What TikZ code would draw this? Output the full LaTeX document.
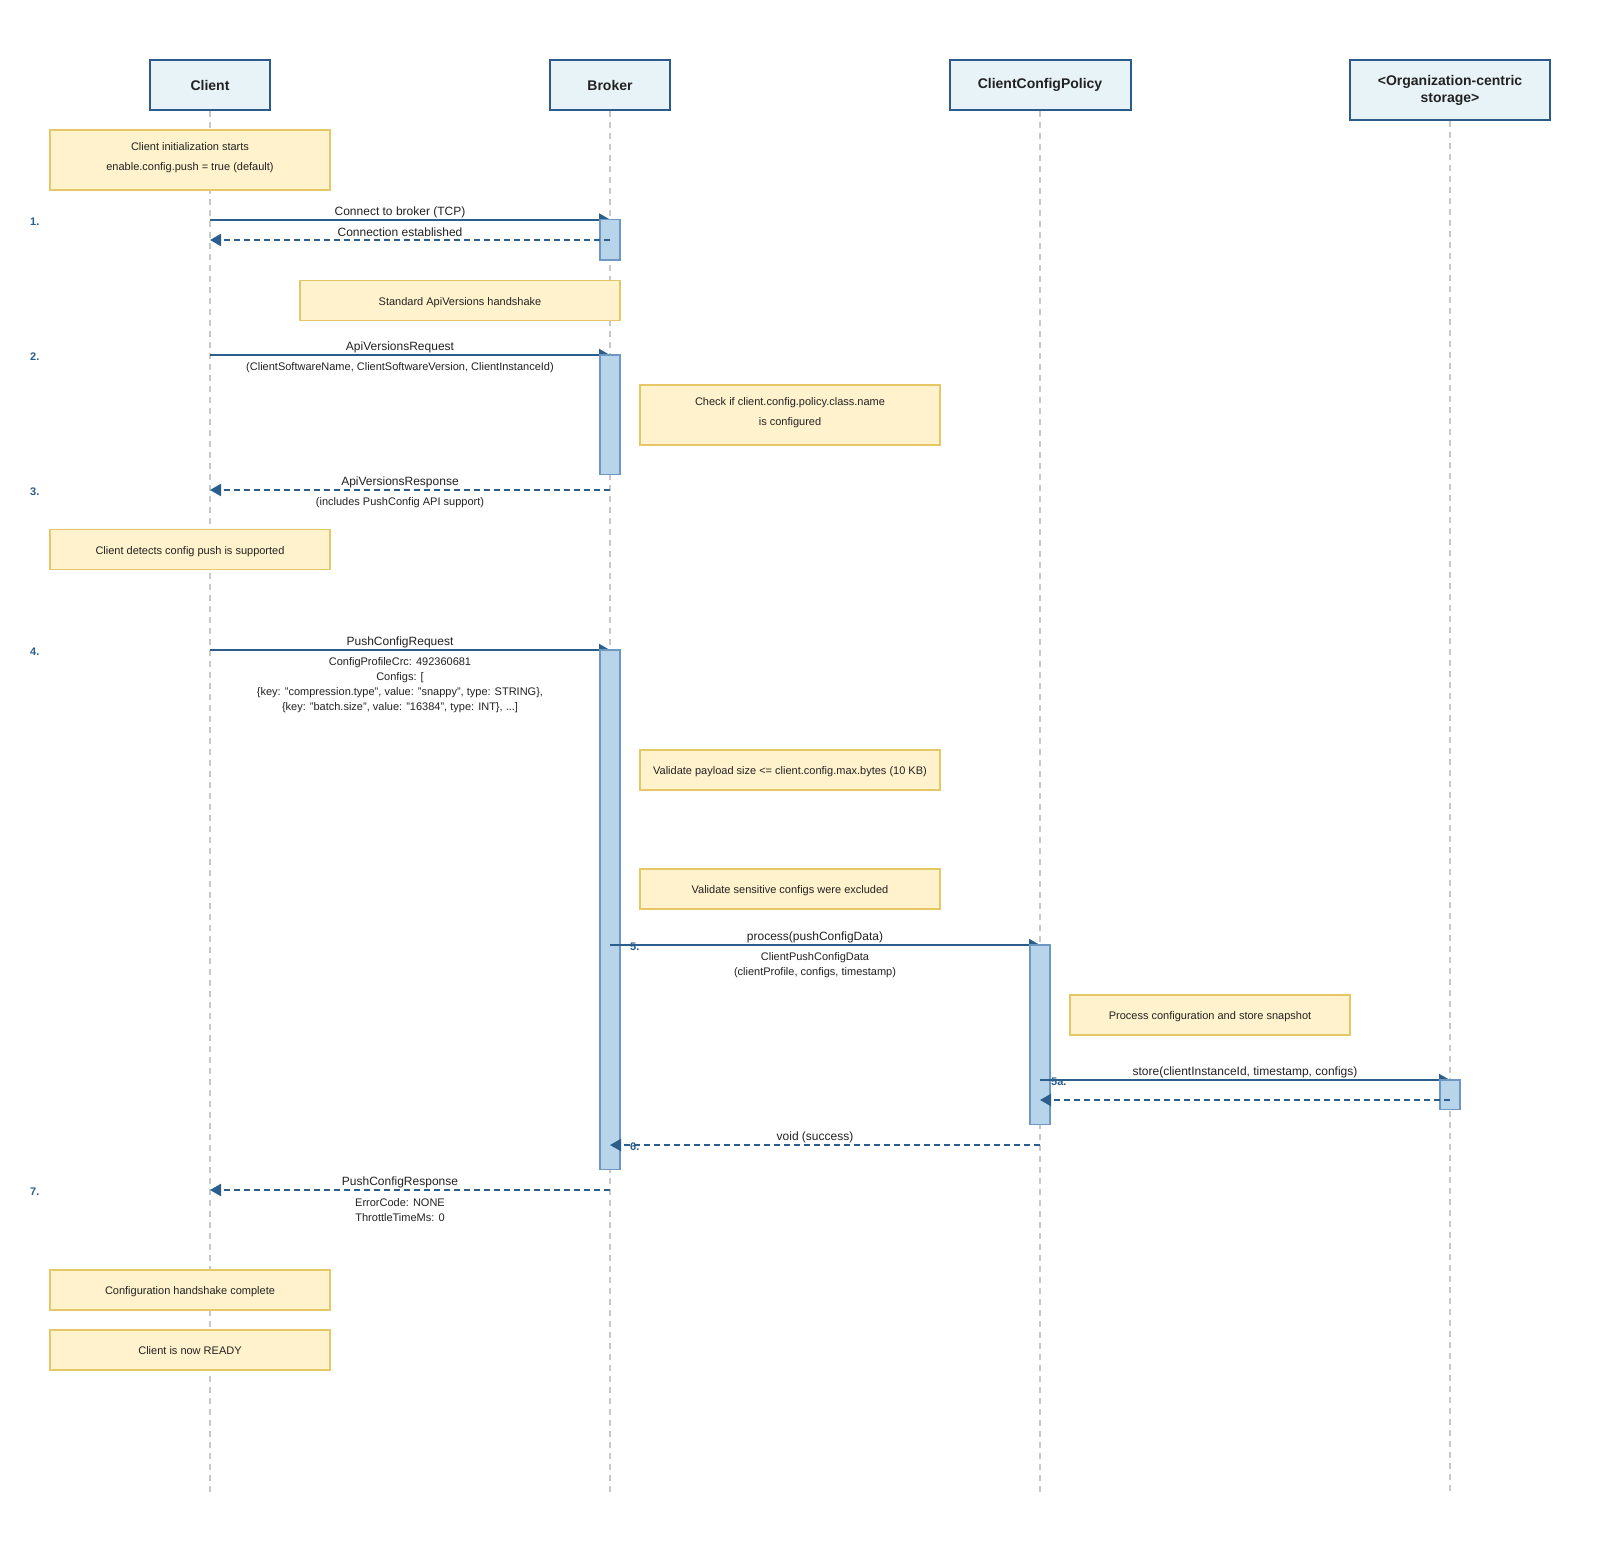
\documentclass[tikz,border=0pt]{standalone}
\usepackage{fontspec}
\setmainfont{Liberation Sans}
\usetikzlibrary{arrows.meta}
\definecolor{headfill}{HTML}{E8F3F8}
\definecolor{headdraw}{HTML}{2B5B8A}
\definecolor{notefill}{HTML}{FFF2CC}
\definecolor{notedraw}{HTML}{E6C766}
\definecolor{actfill}{HTML}{B8D4EA}
\definecolor{actdraw}{HTML}{6C98C2}
\definecolor{arrowc}{HTML}{2B5E8C}
\definecolor{lifegray}{HTML}{C8C8C8}
\definecolor{txt}{HTML}{222222}
\newcommand{\hfnt}{\bfseries\fontsize{14}{17}\selectfont}
\newcommand{\nfnt}{\fontsize{11}{19.5}\selectfont}
\newcommand{\mfnt}{\fontsize{12}{14}\selectfont}
\newcommand{\sfnt}{\fontsize{11}{15}\selectfont}
\newcommand{\numfnt}{\bfseries\fontsize{11}{13}\selectfont}
\begin{document}
\begin{tikzpicture}[x=1pt,y=-1pt,
  head/.style={draw=headdraw, fill=headfill, line width=2pt, font=\hfnt, align=center, inner sep=0pt, text=txt},
  note/.style={draw=notedraw, fill=notefill, line width=1.5pt, font=\nfnt, align=center, inner sep=0pt, text=txt, text height=12pt, text depth=2.3pt},
  notetwo/.style={note, text height=22.2pt, text depth=2pt},
  act/.style={draw=actdraw, fill=actfill, line width=1.5pt, minimum width=20pt, inner sep=0pt},
  life/.style={draw=lifegray, line width=1.5pt, dash pattern=on 6pt off 5pt},
  msg/.style={draw=arrowc, line width=2pt, -{Triangle[length=11pt,width=12pt]}},
  ret/.style={msg, dash pattern=on 6pt off 4pt},
  lbl/.style={font=\mfnt, text=txt, inner sep=0pt},
  sublbl/.style={font=\sfnt, text=txt, inner sep=0pt, align=center},
  num/.style={font=\numfnt, text=arrowc, inner sep=0pt, anchor=west},
]
\useasboundingbox[fill=white] (0,0) rectangle (1600,1550);

% participants
\node[head, minimum width=120pt, minimum height=50pt] (client) at (210,85) {Client};
\node[head, minimum width=120pt, minimum height=50pt] (broker) at (610,85) {Broker};
\node[head, minimum width=181pt, minimum height=50pt] (policy) at (1040,85) {ClientConfigPolicy};
\node[head, minimum width=200pt, minimum height=60pt] (store) at (1450,90) {<Organization-centric\\storage>};

% lifeline ends
\coordinate (clientEnd) at (210,1495);
\coordinate (brokerEnd) at (610,1495);
\coordinate (policyEnd) at (1040,1495);
\coordinate (storeEnd) at (1450,1495);
\draw[life] (client.south) -- (clientEnd);
\draw[life] (broker.south) -- (brokerEnd);
\draw[life] (policy.south) -- (policyEnd);
\draw[life] (store.south) -- (storeEnd);

% notes
\node[notetwo, minimum width=280pt, minimum height=60pt] (n1) at (190,160) {Client initialization starts\\enable.config.push = true (default)};
\node[note, minimum width=320pt, minimum height=40pt] (n2) at (460,300.5) {Standard ApiVersions handshake};
\node[notetwo, minimum width=300pt, minimum height=60pt] (n3) at (790,415) {Check if client.config.policy.class.name\\is configured};
\node[note, minimum width=280pt, minimum height=40pt] (n4) at (190,549.5) {Client detects config push is supported};
\node[note, minimum width=300pt, minimum height=40pt] (n5) at (790,770) {Validate payload size <= client.config.max.bytes (10 KB)};
\node[note, minimum width=300pt, minimum height=40pt] (n6) at (790,889) {Validate sensitive configs were excluded};
\node[note, minimum width=280pt, minimum height=40pt] (n7) at (1210,1015) {Process configuration and store snapshot};
\node[note, minimum width=280pt, minimum height=40pt] (n8) at (190,1290) {Configuration handshake complete};
\node[note, minimum width=280pt, minimum height=40pt] (n9) at (190,1350) {Client is now READY};

% message anchor coordinates
\coordinate (c1) at (210,219.5); \coordinate (b1) at (610,219.5);
\coordinate (c1r) at (210,240); \coordinate (b1r) at (610,240);
\coordinate (c2) at (210,355); \coordinate (b2) at (610,355);
\coordinate (c3) at (210,490); \coordinate (b3) at (610,490);
\coordinate (c4) at (210,650); \coordinate (b4) at (610,650);
\coordinate (b5) at (610,945); \coordinate (p5) at (1040,945);
\coordinate (p5a) at (1040,1080); \coordinate (s5a) at (1450,1080);
\coordinate (p5r) at (1040,1100); \coordinate (s5r) at (1450,1100);
\coordinate (p6) at (1040,1145); \coordinate (b6) at (610,1145);
\coordinate (b7) at (610,1190); \coordinate (c7) at (210,1190);

% 1
\draw[msg] (c1) -- (b1);
\node[act, minimum height=40.5pt] (a1) at (610,239.75) {};
\draw[ret] (b1r) -- (c1r);
\node[lbl] (l1) at (400,212.5) {Connect to broker (TCP)};
\node[lbl] (l1r) at (400,232.5) {Connection established};
\node[num] (k1) at (30,221.5) {1.};

% 2
\draw[msg] (c2) -- (b2);
\node[act, minimum height=119.5pt] (a2) at (610,414.75) {};
\node[lbl] (l2) at (400,347.5) {ApiVersionsRequest};
\node[sublbl] (s2) at (400,367.5) {(ClientSoftwareName, ClientSoftwareVersion, ClientInstanceId)};
\node[num] (k2) at (30,356.5) {2.};

% 3
\draw[ret] (b3) -- (c3);
\node[lbl] (l3) at (400,482.5) {ApiVersionsResponse};
\node[sublbl] (s3) at (400,503) {(includes PushConfig API support)};
\node[num] (k3) at (30,491.5) {3.};

% 4
\draw[msg] (c4) -- (b4);
\node[act, minimum height=519.5pt] (a3) at (610,909.75) {};
\node[lbl] (l4) at (400,642.5) {PushConfigRequest};
\node[sublbl] (s4) at (400,685.5) {ConfigProfileCrc: 492360681\\Configs: [\\\{key: "compression.type", value: "snappy", type: STRING\},\\\{key: "batch.size", value: "16384", type: INT\}, ...]};
\node[num] (k4) at (30,651.5) {4.};

% 5
\draw[msg] (b5) -- (p5);
\node[act, minimum height=179.5pt] (a4) at (1040,1034.75) {};
\node[lbl] (l5) at (815,937.5) {process(pushConfigData)};
\node[sublbl] (s5) at (815,965.5) {ClientPushConfigData\\(clientProfile, configs, timestamp)};
\node[num] (k5) at (630,946.5) {5.};

% 5a
\draw[msg] (p5a) -- (s5a);
\node[act, minimum height=29.5pt] (a5) at (1450,1094.75) {};
\draw[ret] (s5r) -- (p5r);
\node[lbl] (l5a) at (1245,1072) {store(clientInstanceId, timestamp, configs)};
\node[num] (k5a) at (1051,1081.5) {5a.};

% 6
\draw[ret] (p6) -- (b6);
\node[lbl] (l6) at (815,1137.5) {void (success)};
\node[num] (k6) at (630,1146.5) {6.};

% 7
\draw[ret] (b7) -- (c7);
\node[lbl] (l7) at (400,1182.5) {PushConfigResponse};
\node[sublbl] (s7) at (400,1210.5) {ErrorCode: NONE\\ThrottleTimeMs: 0};
\node[num] (k7) at (30,1191.5) {7.};
\end{tikzpicture}
\end{document}
